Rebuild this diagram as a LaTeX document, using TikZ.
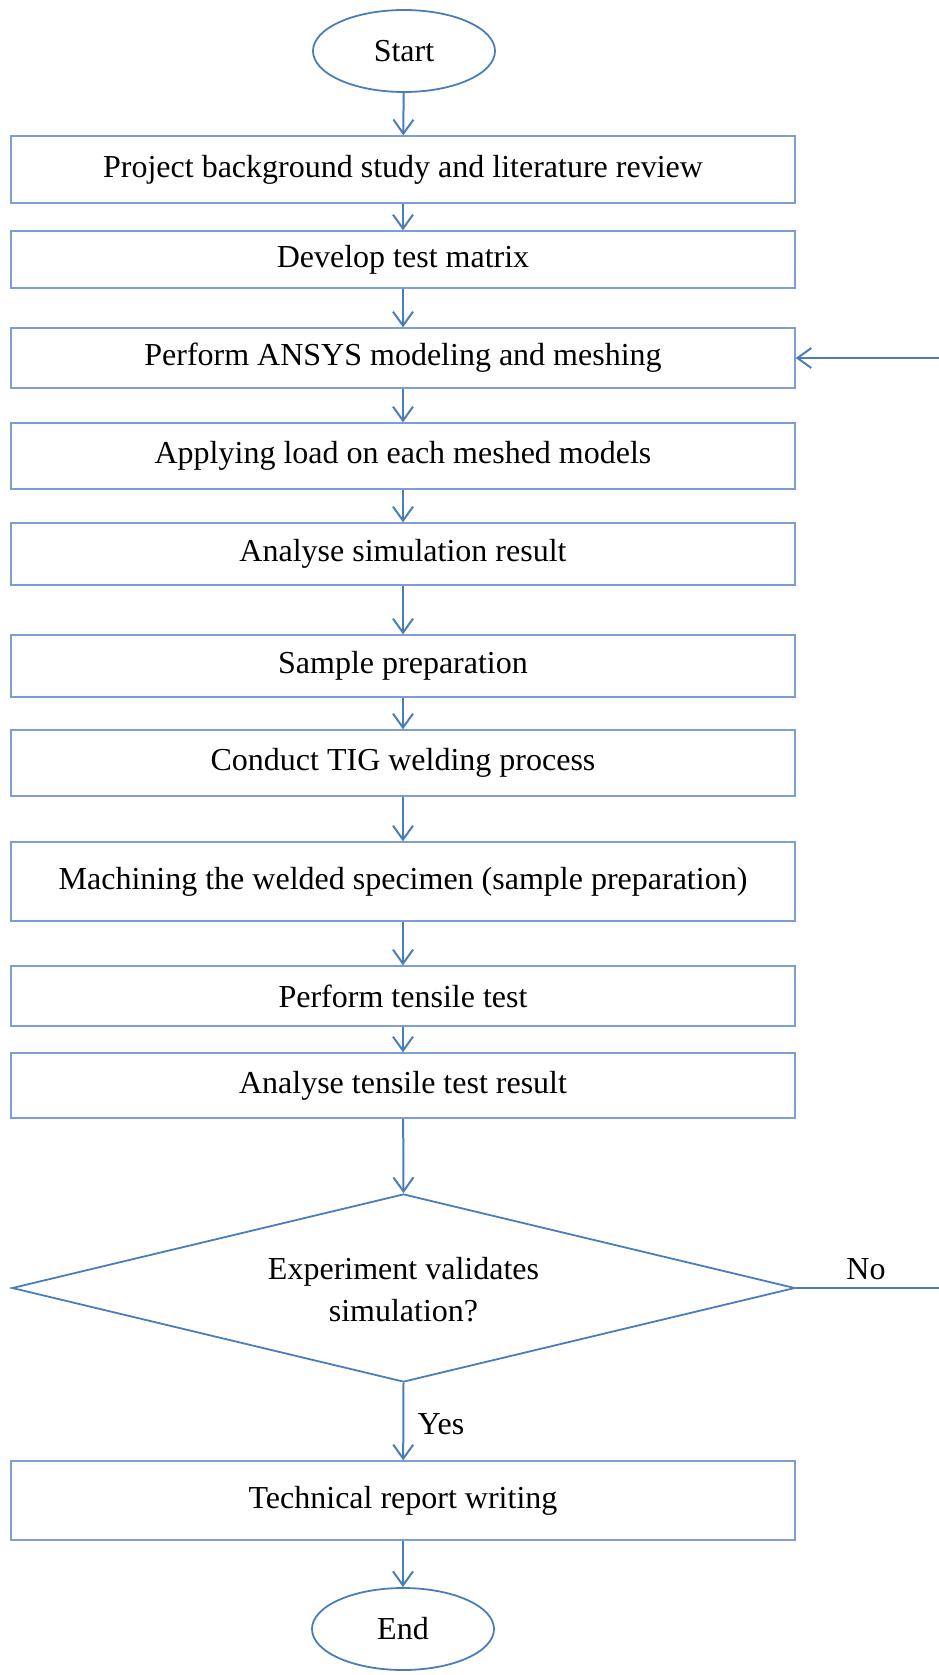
\documentclass[tikz,border=0pt]{standalone}
\usepackage{fontspec}
\setmainfont{Liberation Serif}
\usetikzlibrary{arrows.meta,shapes.geometric}
\definecolor{boxblue}{HTML}{7B9FD4}
\definecolor{lineblue}{HTML}{4A7EBB}
\begin{document}
\begin{tikzpicture}[x=1pt,y=-1pt,
  every node/.style={font=\fontsize{32}{40}\selectfont, text=black},
  stepbox/.style={draw=boxblue, line width=1.3pt, minimum width=784pt, inner sep=0pt},
  term/.style={draw=lineblue, line width=1.8pt, ellipse, minimum width=182pt, minimum height=82pt, inner sep=0pt},
  decide/.style={draw=lineblue, line width=1.8pt, diamond, aspect=4.16, minimum width=783pt, minimum height=188pt, inner sep=0pt, align=center},
  flow/.style={draw=lineblue, line width=2pt, -{Straight Barb[length=14pt,width=20pt,line width=2pt]}},
  plain/.style={draw=lineblue, line width=2pt}]
\useasboundingbox (0,0) rectangle (939,1675);
\node[term] (start) at (404,51) {Start};
\node[stepbox, minimum height=67pt] (b1) at (403,169.5) {Project background study and literature review};
\node[stepbox, minimum height=57pt] (b2) at (403,259.5) {Develop test matrix};
\node[stepbox, minimum height=60pt] (b3) at (403,358) {Perform ANSYS modeling and meshing};
\node[stepbox, minimum height=66pt] (b4) at (403,456) {Applying load on each meshed models};
\node[stepbox, minimum height=62pt] (b5) at (403,554) {Analyse simulation result};
\node[stepbox, minimum height=62pt] (b6) at (403,666) {Sample preparation};
\node[stepbox, minimum height=66pt] (b7) at (403,763) {Conduct TIG welding process};
\node[stepbox, minimum height=79pt] (b8) at (403,881.5) {Machining the welded specimen (sample preparation)};
\node[stepbox, minimum height=60pt] (b9) at (403,996) {Perform tensile test};
\node[stepbox, minimum height=65pt] (b10) at (403,1085.5) {Analyse tensile test result};
\node[decide] (d) at (403.5,1288) {};
\node[font=\fontsize{32}{42}\selectfont, align=center, inner sep=0pt] (dtext) at (403.5,1290) {Experiment validates\\simulation?};
\node[stepbox, minimum height=79pt] (b11) at (403,1500.5) {Technical report writing};
\node[term] (end) at (403,1629) {End};
\coordinate (r1) at (942,1288);
\coordinate (r2) at (942,358);
\draw[flow] (start) -- (b1);
\draw[flow] (b1) -- (b2);
\draw[flow] (b2) -- (b3);
\draw[flow] (b3) -- (b4);
\draw[flow] (b4) -- (b5);
\draw[flow] (b5) -- (b6);
\draw[flow] (b6) -- (b7);
\draw[flow] (b7) -- (b8);
\draw[flow] (b8) -- (b9);
\draw[flow] (b9) -- (b10);
\draw[flow] (b10) -- (d.north);
\draw[flow] (d.south) -- node[anchor=west, xshift=10pt, yshift=-3pt] (yes) {Yes} (b11);
\draw[flow] (b11) -- (end);
\draw[flow] (d.east) -- node[above, xshift=-3pt, yshift=4pt] (no) {No} (r1) -- (r2) -- (b3.east);
\end{tikzpicture}
\end{document}
